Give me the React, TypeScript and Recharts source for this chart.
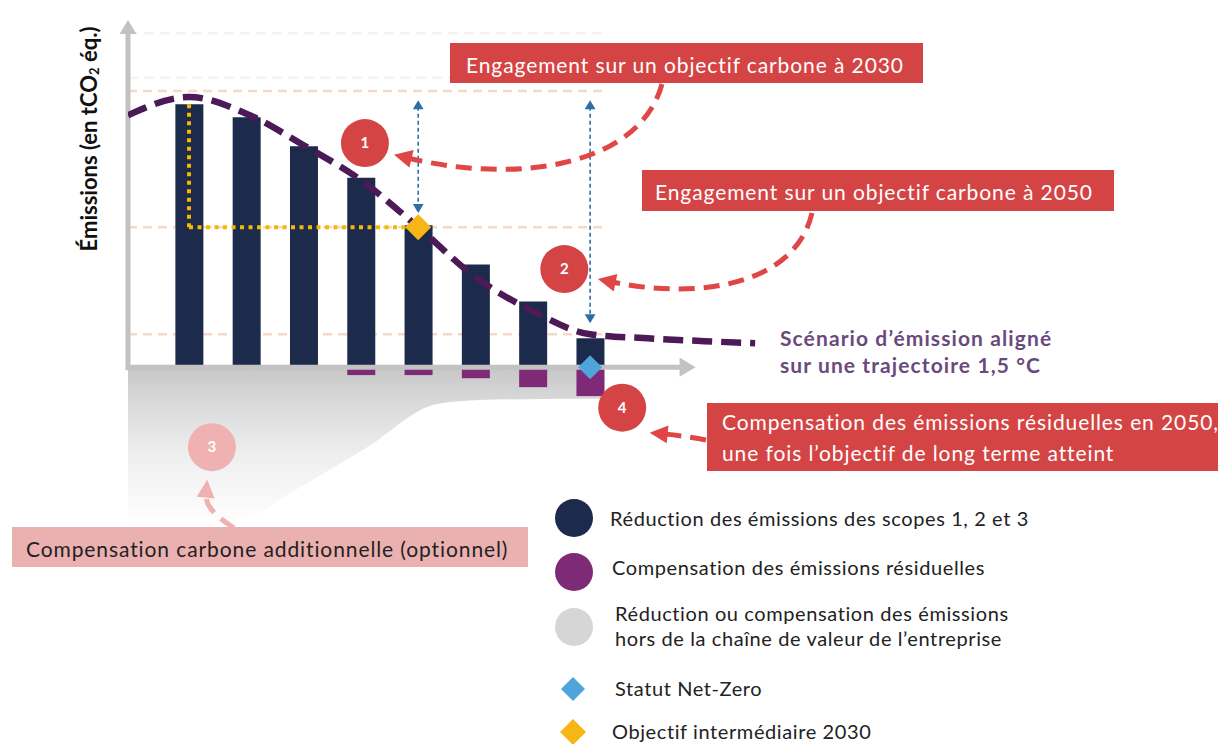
import {
  Area,
  Bar,
  ComposedChart,
  Line,
  ReferenceDot,
  ReferenceLine,
  Scatter,
  XAxis,
  YAxis,
} from "recharts";

// bar positions on the time axis (no labels in the picture)
const periods = [1, 2, 3, 4, 5, 6, 7, 8];
const scopeReductions = [100, 95, 84, 72, 54, 39, 25, 11];
const residualOffsets = [null, null, null, -3, -3, -4.2, -7.6, -11];

// 1.5 °C aligned emission scenario (dashed curve)
const trajectoryX = [-0.065, 1, 2, 3, 4, 5, 6, 7, 8, 9, 10, 10.88];
const trajectoryY = [95.8, 102.7, 96.4, 84.4, 71.1, 53.2, 34.2, 21.3, 12.5, 11.0, 9.9, 9.1];

// lower edge of the "outside the value chain" band
const outsideX = [-0.065, 1, 1.77, 2.94, 4.11, 5.33, 6.08, 7.74, 8.25];
const outsideLow = [-60, -60, -59, -45.6, -30.4, -14, -12.5, -12, -12];

const guideLevels = [105, 53.2, 12.5];
const faintLevels = [110, 127];

const target2030 = [{ x: 5, y: 53.2 }];
const netZero = [{ x: 8, y: 0 }];

const stepLabels = ["1", "2", "3", "4"];
const stepX = [4.07, 7.55, 1.4, 8.56];
const stepY = [85.2, 37.3, -30.4, -15.4];
const stepColors = ["#d54444", "#d54444", "#efb1b1", "#d54444"];

const AXIS_X0 = -0.065;
const X_DOMAIN: [number, number] = [AXIS_X0, 11];

const barData = periods.map((p, i) => ({
  x: p,
  scope: scopeReductions[i],
  residual: residualOffsets[i],
}));
const trajectory = trajectoryX.map((x, i) => ({ x, y: trajectoryY[i] }));
const outsideBand = outsideX.map((x, i) => ({ x, band: [outsideLow[i], 0] }));

const NAVY = "#1c2a4c";
const PURPLE = "#7f2a77";
const LINE_PURPLE = "#4c1a57";
const RED = "#d54444";
const BLUE = "#2f6ea3";
const FONT = "Lato, 'Open Sans', sans-serif";

const diamond = (color: string, half: number) => (props: any) => {
  const { cx, cy } = props;
  return (
    <polygon
      points={`${cx},${cy - half} ${cx + half},${cy} ${cx},${cy + half} ${cx - half},${cy}`}
      fill={color}
    />
  );
};

const tri = (dir: "up" | "down" | "right", color: string, s: number) => (props: any) => {
  const { cx, cy } = props;
  let pts = "";
  if (dir === "up") pts = `${cx},${cy} ${cx - s * 0.6},${cy + s} ${cx + s * 0.6},${cy + s}`;
  if (dir === "down") pts = `${cx},${cy} ${cx - s * 0.6},${cy - s} ${cx + s * 0.6},${cy - s}`;
  if (dir === "right") pts = `${cx},${cy} ${cx - s},${cy - s * 0.6} ${cx - s},${cy + s * 0.6}`;
  return <polygon points={pts} fill={color} />;
};

function Overlay() {
  const boxText = { fontFamily: FONT, fontSize: 21, letterSpacing: 0.9 };
  const legendText = { fontSize: 20, fill: "#222", fontFamily: FONT, letterSpacing: 0.6 };
  return (
    <svg
      width={1218}
      height={744}
      style={{ position: "absolute", left: 0, top: 0, pointerEvents: "none" }}
    >
      <defs>
        <marker id="redHead" viewBox="0 0 10 10" refX="2" refY="5" markerWidth="20" markerHeight="18" markerUnits="userSpaceOnUse" orient="auto">
          <path d="M0,0 L10,5 L0,10 z" fill="#e04646" />
        </marker>
        <marker id="pinkHead" viewBox="0 0 10 10" refX="2" refY="5" markerWidth="20" markerHeight="18" markerUnits="userSpaceOnUse" orient="auto">
          <path d="M0,0 L10,5 L0,10 z" fill="#efb1b1" />
        </marker>
      </defs>

      {/* y axis title */}
      <text
        x={88}
        y={139}
        transform="rotate(-90 88 139)"
        textAnchor="middle"
        dominantBaseline="central"
        fontFamily={FONT}
        fontWeight={700}
        fontSize={22}
        fill="#111"
      >
        Émissions (en tCO
        <tspan fontSize={13} dy={6}>2</tspan>
        <tspan dy={-6}> éq.)</tspan>
      </text>

      {/* dashed callout arrows */}
      <g fill="none" strokeWidth={5} strokeDasharray="16 9">
        <path d="M662 84 C640 165, 520 185, 408 158" stroke="#e04646" markerEnd="url(#redHead)" />
        <path d="M812 213 C795 285, 700 300, 612 282" stroke="#e04646" markerEnd="url(#redHead)" />
        <path d="M706 440 Q685 436, 664 434" stroke="#e04646" markerEnd="url(#redHead)" />
        <path d="M234 528 C214 515, 205 505, 206 494" stroke="#efb1b1" markerEnd="url(#pinkHead)" />
      </g>

      {/* callout boxes */}
      <rect x={450} y={43} width={473} height={40} fill={RED} />
      <text x={466} y={64} dominantBaseline="central" fill="#fff" {...boxText}>
        Engagement sur un objectif carbone à 2030
      </text>
      <rect x={642} y={170} width={472} height={41} fill={RED} />
      <text x={655} y={191} dominantBaseline="central" fill="#fff" {...boxText}>
        Engagement sur un objectif carbone à 2050
      </text>
      <rect x={707} y={403} width={520} height={68} fill={RED} />
      <text x={722} y={421} dominantBaseline="central" fill="#fff" {...boxText}>
        Compensation des émissions résiduelles en 2050,
      </text>
      <text x={722} y={452} dominantBaseline="central" fill="#fff" {...boxText}>
        une fois l’objectif de long terme atteint
      </text>
      <rect x={12} y={527} width={516} height={40} fill="#ebb0b0" />
      <text x={26} y={548} dominantBaseline="central" fill="#222" {...boxText}>
        Compensation carbone additionnelle (optionnel)
      </text>

      {/* scenario label */}
      <text x={780} y={337} dominantBaseline="central" fontFamily={FONT} fontWeight={700} fontSize={21} letterSpacing={1.1} fill="#6a4a7c">
        Scénario d’émission aligné
      </text>
      <text x={780} y={364} dominantBaseline="central" fontFamily={FONT} fontWeight={700} fontSize={21} letterSpacing={1.1} fill="#6a4a7c">
        sur une trajectoire 1,5 °C
      </text>

      {/* legend */}
      <circle cx={574} cy={518} r={19} fill={NAVY} />
      <text x={610} y={518} dominantBaseline="central" {...legendText}>
        Réduction des émissions des scopes 1, 2 et 3
      </text>
      <circle cx={574} cy={572} r={19} fill={PURPLE} />
      <text x={612} y={567} dominantBaseline="central" {...legendText}>
        Compensation des émissions résiduelles
      </text>
      <circle cx={574} cy={627} r={19} fill="#d6d6d6" />
      <text x={615} y={613} dominantBaseline="central" {...legendText}>
        Réduction ou compensation des émissions
      </text>
      <text x={615} y={638} dominantBaseline="central" {...legendText}>
        hors de la chaîne de valeur de l’entreprise
      </text>
      <polygon points="573,677 585,689 573,701 561,689" fill="#4fa5db" />
      <text x={615} y={688} dominantBaseline="central" {...legendText}>
        Statut Net-Zero
      </text>
      <polygon points="573,719 586,732 573,745 560,732" fill="#f6b716" />
      <text x={612} y={731} dominantBaseline="central" {...legendText}>
        Objectif intermédiaire 2030
      </text>
    </svg>
  );
}

export default function App() {
  return (
    <div
      style={{
        position: "absolute",
        left: 0,
        top: 0,
        width: 1218,
        height: 744,
        background: "#fff",
        overflow: "hidden",
        fontFamily: FONT,
      }}
    >
      <ComposedChart
        width={1218}
        height={744}
        data={barData}
        stackOffset="sign"
        margin={{ top: 20, right: 456, bottom: 219, left: 128 }}
      >
        <defs>
          <linearGradient id="outsideFade" x1="0" y1="0" x2="0" y2="1">
            <stop offset="0%" stopColor="#c6c6c6" />
            <stop offset="20%" stopColor="#d8d8d8" />
            <stop offset="55%" stopColor="#eeeeee" />
            <stop offset="100%" stopColor="#ffffff" />
          </linearGradient>
        </defs>
        <XAxis type="number" dataKey="x" domain={X_DOMAIN} allowDataOverflow hide />
        <XAxis xAxisId="bars" type="number" dataKey="x" domain={X_DOMAIN} allowDataOverflow hide />
        <YAxis type="number" domain={[-60, 132]} allowDataOverflow hide />

        <Area
          data={outsideBand}
          dataKey="band"
          type="monotone"
          stroke="none"
          fill="url(#outsideFade)"
          fillOpacity={1}
          isAnimationActive={false}
        />

        {faintLevels.map((v) => (
          <ReferenceLine
            key={`f${v}`}
            segment={[{ x: AXIS_X0, y: v }, { x: 8.25, y: v }]}
            stroke="#f2f2f2"
            strokeWidth={2}
            strokeDasharray="10 6"
            zIndex={-10}
          />
        ))}
        {guideLevels.map((v) => (
          <ReferenceLine
            key={`g${v}`}
            segment={[{ x: AXIS_X0, y: v }, { x: 8.25, y: v }]}
            stroke="#f5d9c6"
            strokeWidth={2.5}
            strokeDasharray="9 6"
            zIndex={-10}
          />
        ))}

        <Bar xAxisId="bars" dataKey="scope" stackId="e" barSize={28} fill={NAVY} isAnimationActive={false} />
        <Bar xAxisId="bars" dataKey="residual" stackId="e" barSize={28} fill={PURPLE} isAnimationActive={false} />

        {/* axes */}
        <ReferenceLine
          segment={[{ x: AXIS_X0, y: -1.2 }, { x: AXIS_X0, y: 127 }]}
          stroke="#c2c2c2"
          strokeWidth={5}
        />
        <ReferenceDot x={AXIS_X0} y={132} r={1} shape={tri("up", "#c2c2c2", 14)} />
        <ReferenceLine
          segment={[{ x: AXIS_X0, y: 0 }, { x: 9.6, y: 0 }]}
          stroke="#c2c2c2"
          strokeWidth={5}
        />
        <ReferenceDot x={9.84} y={0} r={1} shape={tri("right", "#c2c2c2", 16)} />

        {/* 2030 target construction */}
        <ReferenceLine
          segment={[{ x: 1, y: 100 }, { x: 1, y: 53.2 }]}
          stroke="#f5b800"
          strokeWidth={4}
          strokeDasharray="4 4.5"
        />
        <ReferenceLine
          segment={[{ x: 1, y: 53.2 }, { x: 5, y: 53.2 }]}
          stroke="#f5b800"
          strokeWidth={4}
          strokeDasharray="4 4.5"
        />

        {/* gap arrows */}
        <ReferenceLine
          segment={[{ x: 5, y: 99 }, { x: 5, y: 61 }]}
          stroke={BLUE}
          strokeWidth={1.6}
          strokeDasharray="4 3"
        />
        <ReferenceDot x={5} y={101.5} r={1} shape={tri("up", BLUE, 9)} />
        <ReferenceDot x={5} y={58.6} r={1} shape={tri("down", BLUE, 9)} />
        <ReferenceLine
          segment={[{ x: 8, y: 99 }, { x: 8, y: 19 }]}
          stroke={BLUE}
          strokeWidth={1.6}
          strokeDasharray="4 3"
        />
        <ReferenceDot x={8} y={101.5} r={1} shape={tri("up", BLUE, 9)} />
        <ReferenceDot x={8} y={16.7} r={1} shape={tri("down", BLUE, 9)} />

        <Line
          data={trajectory}
          dataKey="y"
          type="monotone"
          stroke={LINE_PURPLE}
          strokeWidth={6.5}
          strokeDasharray="20 9"
          dot={false}
          isAnimationActive={false}
        />

        <Scatter data={target2030} dataKey="y" shape={diamond("#f6b716", 13)} isAnimationActive={false} />
        <Scatter data={netZero} dataKey="y" shape={diamond("#4fa5db", 12)} isAnimationActive={false} />

        {stepLabels.map((lab, i) => (
          <ReferenceDot
            key={lab}
            x={stepX[i]}
            y={stepY[i]}
            r={24}
            fill={stepColors[i]}
            stroke="none"
            label={{ value: lab, position: "center", fill: "#fff", fontWeight: 700, fontSize: 15, fontFamily: FONT }}
          />
        ))}
      </ComposedChart>
      <Overlay />
    </div>
  );
}
